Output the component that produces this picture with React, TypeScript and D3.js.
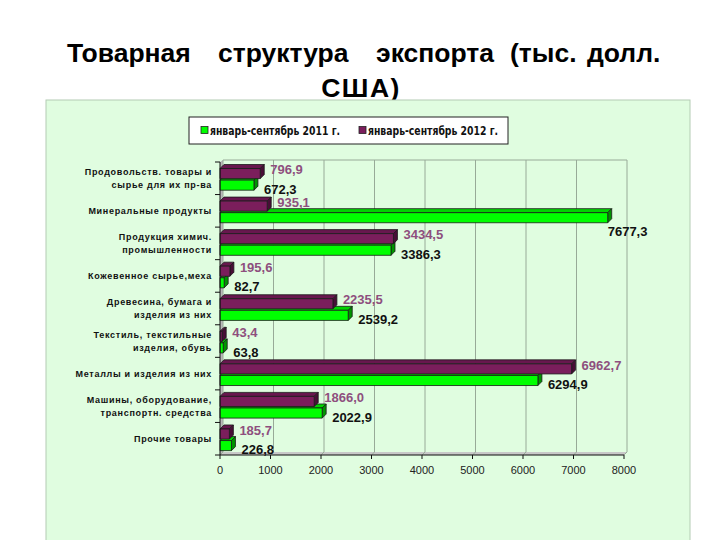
import React from "react";
import * as d3 from "d3";

const categories: string[][] = [
  ["Продовольств. товары и", "сырье для их пр-ва"],
  ["Минеральные продукты"],
  ["Продукция химич.", "промышленности"],
  ["Кожевенное сырье,меха"],
  ["Древесина, бумага и", "изделия из них"],
  ["Текстиль, текстильные", "изделия, обувь"],
  ["Металлы и изделия из них"],
  ["Машины, оборудование,", "транспортн. средства"],
  ["Прочие товары"],
];
const values2011 = [672.3, 7677.3, 3386.3, 82.7, 2539.2, 63.8, 6294.9, 2022.9, 226.8];
const values2012 = [796.9, 935.1, 3434.5, 195.6, 2235.5, 43.4, 6962.7, 1866.0, 185.7];
const seriesNames = ["январь-сентябрь 2011 г.", "январь-сентябрь 2012 г."];
const xTicks = [0, 1000, 2000, 3000, 4000, 5000, 6000, 7000, 8000];
const titleWords = ["Товарная", "структура", "экспорта", "(тыс.", "долл."];
const titleLine2 = "США)";

const FONT = "'Liberation Sans', Arial, sans-serif";
const NARROW = "'Liberation Sans Narrow', 'DejaVu Sans Condensed', 'Liberation Sans', sans-serif";

const fmt = (v: number) => d3.format(".1f")(v).replace(".", ",");

function Bar({ x0, x1, y, h, d, front, top, side }: any) {
  const w = Math.max(x1 - x0, 0.5);
  const xe = x0 + w;
  return (
    <g stroke="#1a1a1a" strokeWidth={0.8} strokeLinejoin="round">
      <polygon points={`${x0},${y} ${x0 + d},${y - d} ${xe + d},${y - d} ${xe},${y}`} fill={top} />
      <polygon points={`${xe},${y} ${xe + d},${y - d} ${xe + d},${y + h - d} ${xe},${y + h}`} fill={side} />
      <rect x={x0} y={y} width={w} height={h} fill={front} />
    </g>
  );
}

export default function App() {
  const W = 720, H = 540;
  const x = d3.scaleLinear().domain([0, 8000]).range([220, 624]);
  const y = d3.scaleBand<number>().domain(categories.map((_, i) => i)).range([162, 455]);
  const bw = y.bandwidth();
  const d = 4;
  const barH = bw * 0.31;
  const x0 = x(0);
  const plotTop = 162, plotBottom = 455, xMax = x(8000);

  const purple = { front: "#7b1e5c", top: "#68174e", side: "#480e36" };
  const green = { front: "#00ff00", top: "#00d400", side: "#009400" };

  const labelFor = (v: number, yc: number, color: string, dy: number, key: string) => {
    const text = fmt(v);
    const estW = text.length * 7.3;
    let lx = x(v) + 10;
    let ly = yc + dy;
    if (lx + estW > xMax + 6) {
      lx = x(v);
      ly = yc + 14;
    }
    return (
      <text key={key} x={lx} y={ly} dy="0.36em" fontFamily={FONT} fontWeight="bold" fontSize={13} fill={color}>
        {text}
      </text>
    );
  };

  const wordX = [67, 218, 376, 510, 587];

  return (
    <div style={{ position: "fixed", left: 0, top: 0 }}>
      <svg width={W} height={H} style={{ display: "block", background: "#ffffff" }}>
        {/* title */}
        <text y={62} fontFamily={FONT} fontWeight="bold" fontSize={26.5} fill="#000">
          {titleWords.map((w, i) => (
            <tspan key={i} x={wordX[i]}>{w}</tspan>
          ))}
        </text>
        <text x={361} y={97} textAnchor="middle" fontFamily={FONT} fontWeight="bold" fontSize={26.5} letterSpacing={1.5} fill="#000">
          {titleLine2}
        </text>

        {/* panel */}
        <rect x={46} y={100} width={644} height={445} fill="#e0fde0" stroke="#b4ccb4" strokeWidth={1} />

        {/* legend */}
        <rect x={189} y={117} width={319} height={27} fill="#ffffff" stroke="#222" strokeWidth={1} />
        {seriesNames.map((s, i) => {
          const lx = i === 0 ? 201 : 359;
          const c = i === 0 ? green : purple;
          return (
            <g key={s}>
              <rect x={lx} y={126.5} width={7} height={7} fill={c.front} stroke="#222" strokeWidth={0.8} />
              <text x={lx + 9} y={130.5} dy="0.36em" fontFamily={NARROW} fontWeight="bold" fontSize={12}
                textLength={130} lengthAdjust="spacingAndGlyphs" fill="#111">{s}</text>
            </g>
          );
        })}

        {/* 3D walls */}
        <polygon points={`${x0},${plotBottom} ${x0 + d - 1},${plotBottom - d + 1} ${x0 + d - 1},${plotTop - 2} ${x0},${plotTop}`} fill="#b8b8b8" />
        <polygon points={`${x0},${plotBottom} ${xMax},${plotBottom} ${xMax + d - 1},${plotBottom - d + 1} ${x0 + d - 1},${plotBottom - d + 1}`} fill="#c8c8c8" />
        {xTicks.map((t) => (
          <g key={t} stroke="#98aa98" strokeWidth={1}>
            <line x1={x(t) + d - 1} x2={x(t) + d - 1} y1={plotTop - 2} y2={plotBottom - d + 1} />
            <line x1={x(t)} x2={x(t) + d - 1} y1={plotBottom} y2={plotBottom - d + 1} />
          </g>
        ))}
        <line x1={x0 + d - 1} x2={xMax + d - 1} y1={plotTop - 2} y2={plotTop - 2} stroke="#98aa98" strokeWidth={1} />

        {/* bars */}
        {categories.map((_, i) => {
          const b0 = y(i)!;
          const yP = b0 + bw * 0.2;
          const yG = yP + barH + 1.5;
          return (
            <g key={i}>
              <Bar x0={x0} x1={x(values2011[i])} y={yG} h={barH} d={d} {...green} />
              <Bar x0={x0} x1={x(values2012[i])} y={yP} h={barH} d={d} {...purple} />
            </g>
          );
        })}

        {/* axes */}
        <line x1={x0} x2={x0} y1={plotTop} y2={plotBottom} stroke="#111" strokeWidth={1} />
        <line x1={x0 - 5} x2={xMax} y1={plotBottom} y2={plotBottom} stroke="#111" strokeWidth={1.2} />
        {categories.map((_, i) => (
          <line key={i} x1={x0 - 5} x2={x0} y1={y(i)!} y2={y(i)!} stroke="#111" strokeWidth={1} />
        ))}
        {xTicks.map((t) => (
          <g key={t}>
            <line x1={x(t)} x2={x(t)} y1={plotBottom} y2={plotBottom + 4} stroke="#111" strokeWidth={1} />
            <text x={x(t)} y={470} dy="0.36em" textAnchor="middle" fontFamily={FONT} fontSize={11} fill="#222">{t}</text>
          </g>
        ))}

        {/* category labels */}
        {categories.map((lines, i) => {
          const yc = y(i)! + bw / 2;
          const lh = 13;
          const start = yc - ((lines.length - 1) * lh) / 2;
          return (
            <text key={i} textAnchor="end" fontFamily={FONT} fontWeight="bold" fontSize={9} letterSpacing={0.7} fill="#111">
              {lines.map((l, j) => (
                <tspan key={j} x={212} y={start + j * lh} dy="0.36em">{l}</tspan>
              ))}
            </text>
          );
        })}

        {/* value labels */}
        {categories.map((_, i) => {
          const b0 = y(i)!;
          const yP = b0 + bw * 0.2;
          const yG = yP + barH + 1.5;
          return (
            <g key={i}>
              {labelFor(values2012[i], yP + barH / 2, "#8e4f7e", -4, "p" + i)}
              {labelFor(values2011[i], yG + barH / 2, "#111", 4, "g" + i)}
            </g>
          );
        })}
      </svg>
    </div>
  );
}
